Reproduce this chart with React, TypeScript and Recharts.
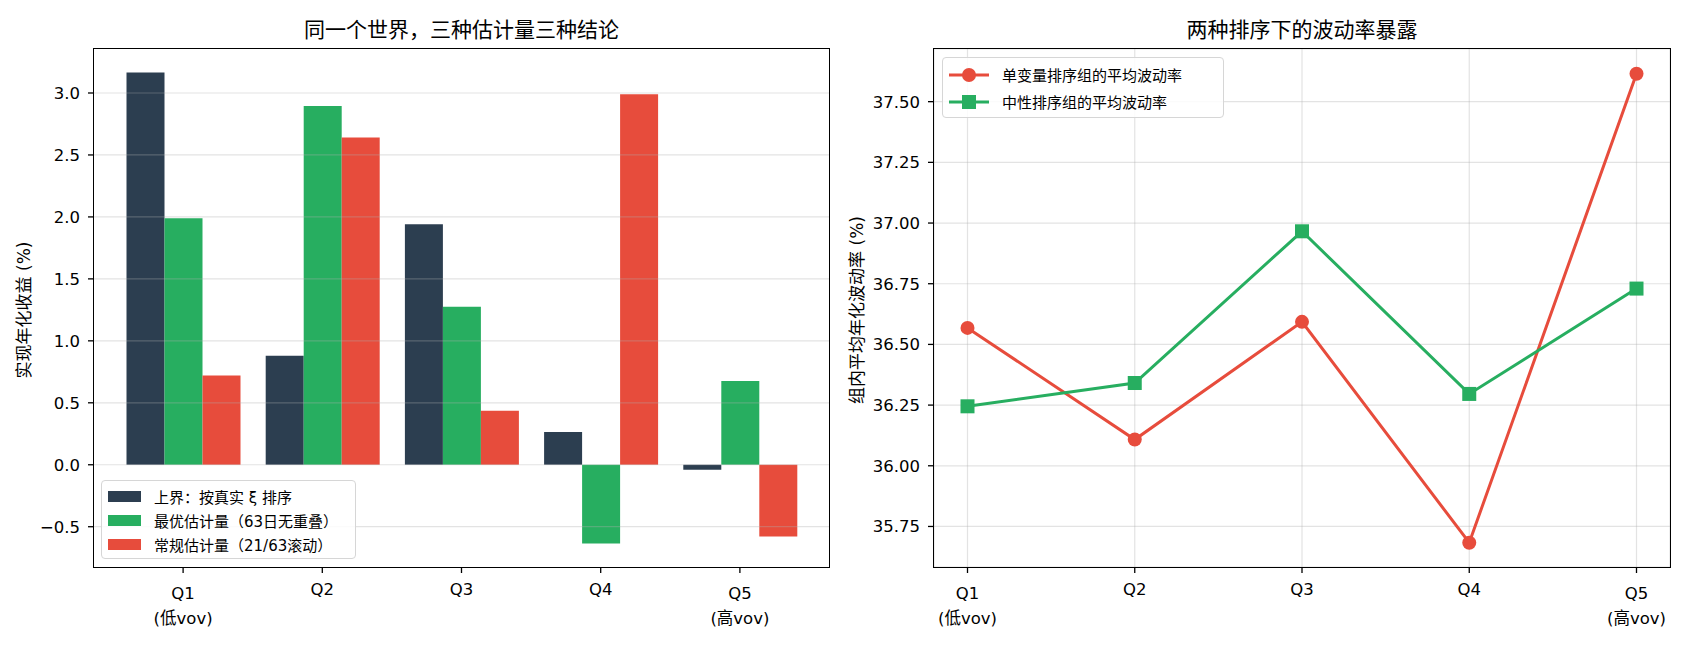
import React from "react";
import {
  BarChart,
  Bar,
  LineChart,
  Line,
  XAxis,
  YAxis,
  CartesianGrid,
  ReferenceLine,
  Legend,
} from "recharts";

// quintiles by vol-of-vol
const quintiles = ["Q1", "Q2", "Q3", "Q4", "Q5"];
const quintileNotes = ["(低vov)", "", "", "", "(高vov)"];

// left panel: realised annual return (%)
const upperBound = [3.165, 0.88, 1.94, 0.265, -0.04];
const optimalEst = [1.99, 2.895, 1.275, -0.635, 0.675];
const rollingEst = [0.72, 2.64, 0.435, 2.99, -0.578];
const returnTicks = [-0.5, 0, 0.5, 1, 1.5, 2, 2.5, 3];

// right panel: mean annualised vol inside group (%)
const univariateVol = [36.568, 36.108, 36.593, 35.683, 37.615];
const neutralVol = [36.245, 36.341, 36.966, 36.296, 36.73];
const volTicks = [35.75, 36, 36.25, 36.5, 36.75, 37, 37.25, 37.5];

const DARK = "#2c3e50";
const GREEN = "#27ae60";
const RED = "#e74c3c";
const FONT = "'DejaVu Sans', 'Noto Sans CJK SC', sans-serif";
const GRID = "#b0b0b0";
const TICK_FS = 16.5;

const barRows = quintiles.map((q, i) => ({
  q,
  upper: upperBound[i],
  optimal: optimalEst[i],
  rolling: rollingEst[i],
}));

const lineRows = quintiles.map((q, i) => ({
  q,
  uni: univariateVol[i],
  neutral: neutralVol[i],
}));

const minus = (s: string) => s.replace("-", "\u2212");

const QuintileTick = (props: any) => {
  const { x, y, payload } = props;
  const note = quintileNotes[quintiles.indexOf(payload.value)];
  return (
    <g transform={`translate(${x},${y})`}>
      <text textAnchor="middle" fontSize={TICK_FS} fill="#000" fontFamily={FONT}>
        <tspan x={0} y={note ? 26 : 22}>
          {payload.value}
        </tspan>
        {note ? (
          <tspan x={0} y={51}>
            {note}
          </tspan>
        ) : null}
      </text>
    </g>
  );
};

const YLabel = (text: string, x: number) => (props: any) => {
  const vb = props.viewBox || {};
  const cy = (vb.y || 0) + (vb.height || 0) / 2 + 2;
  return (
    <text
      x={x}
      y={cy}
      transform={`rotate(-90, ${x}, ${cy})`}
      textAnchor="middle"
      dominantBaseline="middle"
      fontSize={17}
      fontFamily={FONT}
      fill="#000"
    >
      {text}
    </text>
  );
};

const legendBox: React.CSSProperties = {
  background: "rgba(255,255,255,0.85)",
  border: "1.3px solid #d6d6d6",
  borderRadius: 4,
  fontFamily: FONT,
  fontSize: 15,
  color: "#000",
  boxSizing: "border-box",
};

const BarLegend = () => {
  const items = [
    { c: DARK, t: "上界：按真实 ξ 排序" },
    { c: GREEN, t: "最优估计量（63日无重叠）" },
    { c: RED, t: "常规估计量（21/63滚动）" },
  ];
  return (
    <div style={{ ...legendBox, width: 255, height: 79, padding: "3px 0 0 6px" }}>
      {items.map((it) => (
        <div key={it.t} style={{ display: "flex", alignItems: "center", height: 24 }}>
          <span style={{ width: 33, height: 11, background: it.c, display: "inline-block" }} />
          <span style={{ marginLeft: 13, whiteSpace: "nowrap" }}>{it.t}</span>
        </div>
      ))}
    </div>
  );
};

const LineLegend = () => {
  const items = [
    { c: RED, t: "单变量排序组的平均波动率", square: false },
    { c: GREEN, t: "中性排序组的平均波动率", square: true },
  ];
  return (
    <div style={{ ...legendBox, width: 282, height: 61, padding: "3px 0 0 5px" }}>
      {items.map((it) => (
        <div key={it.t} style={{ display: "flex", alignItems: "center", height: 27 }}>
          <svg width={42} height={20}>
            <line x1={1} y1={10} x2={41} y2={10} stroke={it.c} strokeWidth={3} />
            {it.square ? (
              <rect x={14} y={3} width={14} height={14} fill={it.c} />
            ) : (
              <circle cx={21} cy={10} r={7} fill={it.c} />
            )}
          </svg>
          <span style={{ marginLeft: 12, whiteSpace: "nowrap" }}>{it.t}</span>
        </div>
      ))}
    </div>
  );
};

const SquareDot = (props: any) => {
  const { cx, cy } = props;
  if (cx == null || cy == null) return null;
  return <rect x={cx - 7} y={cy - 7} width={14} height={14} fill={GREEN} />;
};

const titleStyle: React.CSSProperties = {
  position: "absolute",
  top: 13,
  fontFamily: FONT,
  fontSize: 21,
  color: "#000",
  textAlign: "center",
  whiteSpace: "nowrap",
};

const frame = (left: number, width: number): React.CSSProperties => ({
  position: "absolute",
  left,
  top: 48,
  width,
  height: 520,
  border: "1.3px solid #000",
  boxSizing: "border-box",
  pointerEvents: "none",
});

export default function App() {
  return (
    <div
      style={{
        position: "fixed",
        left: 0,
        top: 0,
        width: 1690,
        height: 650,
        background: "#fff",
        fontFamily: FONT,
      }}
    >
      <div style={{ ...titleStyle, left: 94, width: 735 }}>同一个世界，三种估计量三种结论</div>
      <div style={{ ...titleStyle, left: 934, width: 736 }}>两种排序下的波动率暴露</div>

      <div style={{ position: "absolute", left: 0, top: 0 }}>
        <BarChart
          width={845}
          height={650}
          data={barRows}
          margin={{ top: 49, right: 16, bottom: 0, left: 0 }}
          barCategoryGap={13}
          barGap={0}
        >
          <XAxis
            dataKey="q"
            height={83}
            padding={{ left: 19.5, right: 19.5 }}
            interval={0}
            tickSize={6}
            tickMargin={0}
            axisLine={false}
            tickLine={{ stroke: "#000", strokeWidth: 1.3 }}
            tick={QuintileTick}
          />
          <YAxis
            width={94}
            type="number"
            domain={[-0.825, 3.355]}
            ticks={returnTicks}
            tickFormatter={(v: number) => minus(v.toFixed(1))}
            tickSize={6}
            tickMargin={8}
            axisLine={false}
            tickLine={{ stroke: "#000", strokeWidth: 1.3 }}
            tick={{ fontSize: TICK_FS, fill: "#000", fontFamily: FONT }}
            label={YLabel("实现年化收益 (%)", 25)}
          />
          <Bar dataKey="upper" name="上界：按真实 ξ 排序" fill={DARK} isAnimationActive={false} />
          <Bar dataKey="optimal" name="最优估计量（63日无重叠）" fill={GREEN} isAnimationActive={false} />
          <Bar dataKey="rolling" name="常规估计量（21/63滚动）" fill={RED} isAnimationActive={false} />
          {returnTicks.map((t) => (
            <ReferenceLine key={t} y={t} stroke={GRID} strokeOpacity={0.35} strokeWidth={1.2} />
          ))}
          <Legend
            layout="vertical"
            align="center"
            verticalAlign="middle"
            content={BarLegend}
            wrapperStyle={{ position: "absolute", left: 101, top: 480, width: "auto", height: "auto" }}
          />
        </BarChart>
      </div>
      <div style={frame(93, 737)} />

      <div style={{ position: "absolute", left: 845, top: 0 }}>
        <LineChart
          width={845}
          height={650}
          data={lineRows}
          margin={{ top: 49, right: 20, bottom: 0, left: 0 }}
        >
          <CartesianGrid stroke={GRID} strokeOpacity={0.35} strokeWidth={1.2} />
          <XAxis
            dataKey="q"
            height={83}
            padding={{ left: 33.5, right: 33.5 }}
            interval={0}
            tickSize={6}
            tickMargin={0}
            axisLine={false}
            tickLine={{ stroke: "#000", strokeWidth: 1.3 }}
            tick={QuintileTick}
          />
          <YAxis
            width={89}
            type="number"
            domain={[35.583, 37.717]}
            ticks={volTicks}
            tickFormatter={(v: number) => v.toFixed(2)}
            tickSize={6}
            tickMargin={8}
            axisLine={false}
            tickLine={{ stroke: "#000", strokeWidth: 1.3 }}
            tick={{ fontSize: TICK_FS, fill: "#000", fontFamily: FONT }}
            label={YLabel("组内平均年化波动率 (%)", 13)}
          />
          <Line
            dataKey="uni"
            name="单变量排序组的平均波动率"
            stroke={RED}
            strokeWidth={3}
            dot={{ r: 7, fill: RED, stroke: RED, strokeWidth: 0 }}
            activeDot={false}
            isAnimationActive={false}
          />
          <Line
            dataKey="neutral"
            name="中性排序组的平均波动率"
            stroke={GREEN}
            strokeWidth={3}
            dot={SquareDot}
            activeDot={false}
            isAnimationActive={false}
          />
          <Legend
            layout="vertical"
            align="center"
            verticalAlign="middle"
            content={LineLegend}
            wrapperStyle={{ position: "absolute", left: 97, top: 57, width: "auto", height: "auto" }}
          />
        </LineChart>
      </div>
      <div style={frame(933, 738)} />
    </div>
  );
}
